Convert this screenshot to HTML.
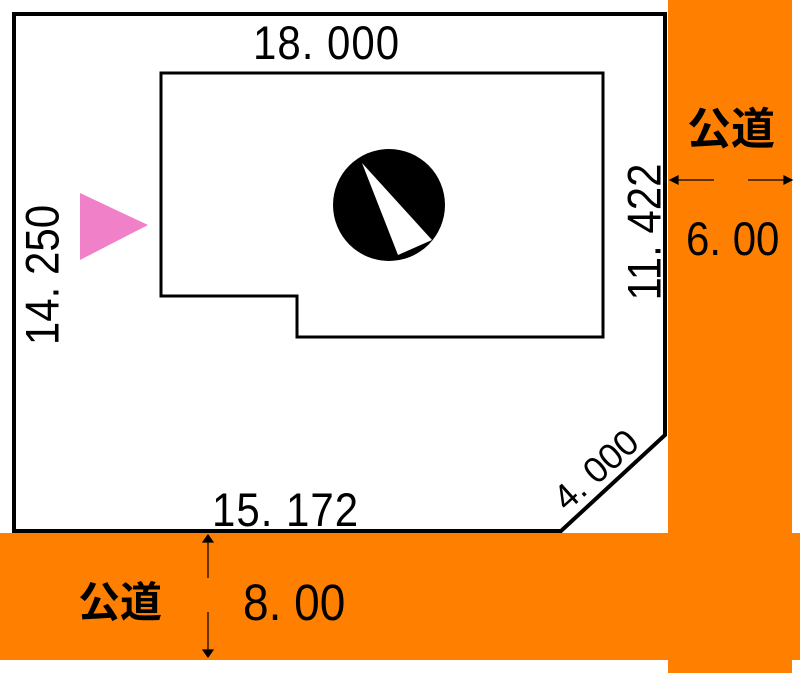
<!DOCTYPE html>
<html><head><meta charset="utf-8"><style>
body{margin:0;width:800px;height:673px;background:#fff;overflow:hidden;position:relative}
.t{position:absolute;font-family:"Liberation Sans","Noto Sans CJK JP",sans-serif;color:#000;white-space:nowrap;line-height:1}
</style></head><body>
<svg width="800" height="673" style="position:absolute;left:0;top:0">
<rect x="668" y="0" width="124" height="673" fill="#ff8000"/>
<rect x="0" y="533" width="800" height="127" fill="#ff8000"/>
<polygon points="14,14 665,14 665,435 561,531 14,531" fill="#fff" stroke="#000" stroke-width="4"/>
<polygon points="161,73 603,73 603,337 297,337 297,296 161,296" fill="none" stroke="#000" stroke-width="3"/>
<circle cx="389" cy="205" r="56" fill="#000"/>
<polygon points="362,163 398,255 432,240" fill="#fff"/>
<polygon points="80,193 80,260 148,225" fill="#f080c8"/>
<g stroke="#000" stroke-width="1.2" fill="#000">
<line x1="672" y1="180" x2="714" y2="180"/><line x1="748" y1="180" x2="790" y2="180"/>
<polygon points="670,180 678,176 678,184"/><polygon points="792,180 784,176 784,184"/>
<line x1="208" y1="537" x2="208" y2="578"/><line x1="208" y1="612" x2="208" y2="653"/>
<polygon points="208,535 203,542 213,542"/><polygon points="208,657 203,650 213,650"/>
</g>
</svg>
<div class="t" style="left:253px;top:20px;font-size:42px;letter-spacing:1px;transform:scaleY(1.12);transform-origin:left top">18. 000</div>
<div class="t" style="left:212px;top:487px;font-size:42px;letter-spacing:1px;transform:scaleY(1.12);transform-origin:left top">15. 172</div>
<div class="t" style="left:43px;top:275px;font-size:42px;transform:translate(-50%,-50%) rotate(-90deg) scaleY(1.12)">14. 250</div>
<div class="t" style="left:645px;top:232px;font-size:42px;transform:translate(-50%,-50%) rotate(-90deg) scaleY(1.12)">11. 422</div>
<div class="t" style="left:596px;top:470px;font-size:36px;transform:translate(-50%,-50%) rotate(-42deg)">4. 000</div>
<div class="t" style="left:686px;top:216px;font-size:42px;transform:scaleY(1.12);transform-origin:left top">6. 00</div>
<div class="t" style="left:243px;top:577px;font-size:46px;transform:scaleY(1.1);transform-origin:left top">8. 00</div>
<div class="t" style="left:687px;top:108px;font-size:44px;font-weight:bold">公道</div>
<div class="t" style="left:78px;top:582px;font-size:42px;font-weight:bold">公道</div>
</body></html>
